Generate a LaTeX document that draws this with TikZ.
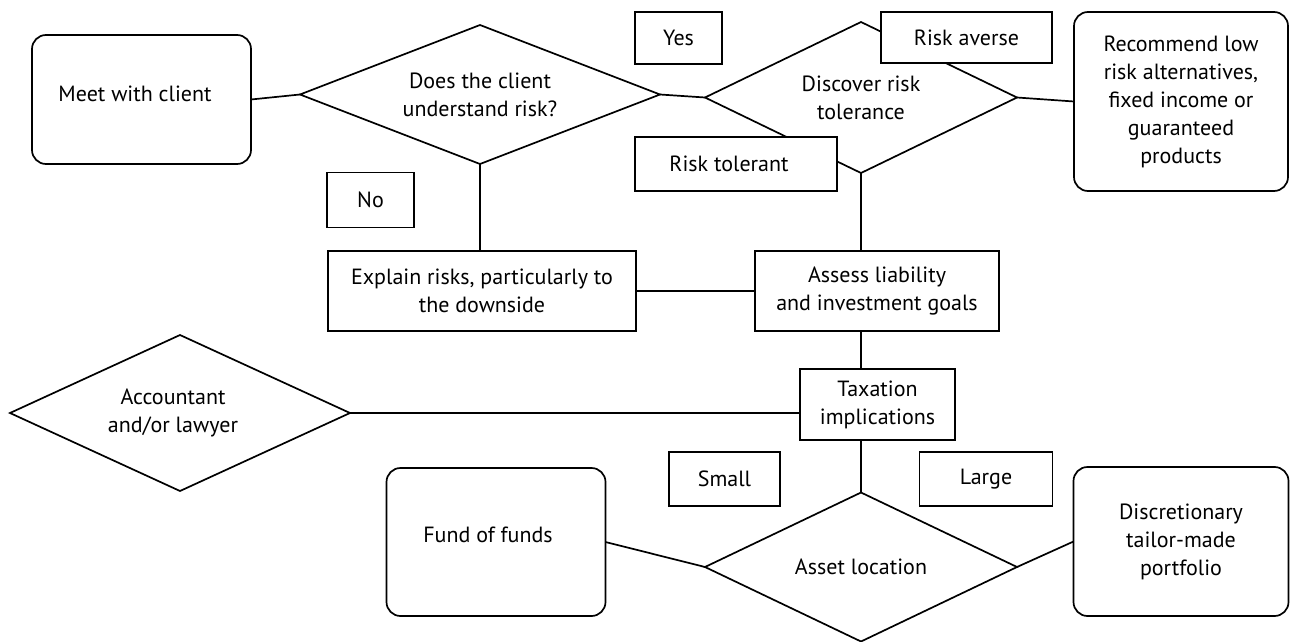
\documentclass[tikz,border=0pt]{standalone}
\usepackage{fontspec}
\setmainfont{PT Sans}
\usetikzlibrary{shapes.geometric}
\begin{document}
\begin{tikzpicture}[x=1pt,y=-1pt,
  every node/.style={font=\fontsize{22}{28}\selectfont, align=center, inner sep=0pt, outer sep=0pt},
  conn/.style={draw=black, line width=1.7pt},
  decision/.style={diamond, draw=black, line width=1.7pt},
  plainbox/.style={rectangle, draw=black, line width=1.7pt, fill=white},
  roundbox/.style={rectangle, rounded corners=14pt, draw=black, line width=1.7pt},
  tag/.style={rectangle, draw=black, line width=1.7pt, fill=white},
  txt/.style={}]
\useasboundingbox (0,0) rectangle (1293,642);

% decisions
\node[decision, aspect=2.59, minimum width=360pt, minimum height=139pt] (d1) at (480,94.5) {Does the client\\understand risk?};
\node[decision, aspect=2.07, minimum width=312pt, minimum height=151pt] (d2) at (861,97.5) {Discover risk\\tolerance};
\node[decision, aspect=2.18, minimum width=340pt, minimum height=156pt] (acc) at (180,413) {\hspace*{-14pt}Accountant\\\hspace*{-14pt}and/or lawyer};
\node[decision, aspect=2.09, minimum width=312pt, minimum height=149pt] (asset) at (861,567) {Asset location};

% process boxes
\node[roundbox, minimum width=219pt, minimum height=129pt] (meet) at (141.5,99.5) {};
\node[txt] (meettext) at (135,94) {Meet with client};
\node[roundbox, minimum width=214pt, minimum height=179pt] (rec) at (1181,101.5) {Recommend low\\risk alternatives,\\fixed income or\\guaranteed\\products};
\node[plainbox, minimum width=308pt, minimum height=80pt] (explain) at (482,291) {Explain risks, particularly to\\the downside};
\node[plainbox, minimum width=244pt, minimum height=80pt] (assess) at (877,291) {Assess liability\\and investment goals};
\node[plainbox, minimum width=155pt, minimum height=71pt] (tax) at (877.5,404.5) {Taxation\\implications};
\node[roundbox, minimum width=219pt, minimum height=148pt] (fof) at (496,542) {};
\node[txt] (foftext) at (488,535) {Fund of funds};
\node[roundbox, minimum width=215pt, minimum height=149pt] (disc) at (1181,541.5) {Discretionary\\tailor-made\\portfolio};

% connectors
\draw[conn] (meet.east) -- (d1.west);
\draw[conn] (d1.east) -- (d2.west);
\draw[conn] (d2.east) -- (rec.west);
\draw[conn] (d1.south) -- (d1.south |- explain.north);
\draw[conn] (explain.east) -- (assess.west);
\draw[conn] (d2.south) -- (d2.south |- assess.north);
\draw[conn] (d2.south |- assess.south) -- (d2.south |- tax.north);
\draw[conn] (acc.east) -- (acc.east -| tax.west);
\draw[conn] (asset.north |- tax.south) -- (asset.north);
\draw[conn] (fof.east) -- (asset.west);
\draw[conn] (asset.east) -- (disc.west);

% branch tags (drawn over the diamond edges)
\node[tag, minimum width=87pt, minimum height=52pt] (yes) at (678.5,38) {Yes};
\node[tag, minimum width=87pt, minimum height=55pt] (no) at (370.5,200) {No};
\node[tag, minimum width=171pt, minimum height=51pt] (averse) at (966.5,37.5) {Risk averse};
\node[tag, minimum width=202pt, minimum height=54pt] (tolerant) at (736,164) {\hspace*{-14pt}Risk tolerant};
\node[tag, minimum width=111pt, minimum height=54pt] (small) at (724.5,479) {Small};
\node[tag, minimum width=133pt, minimum height=54pt] (large) at (986,479) {Large};
\end{tikzpicture}
\end{document}
